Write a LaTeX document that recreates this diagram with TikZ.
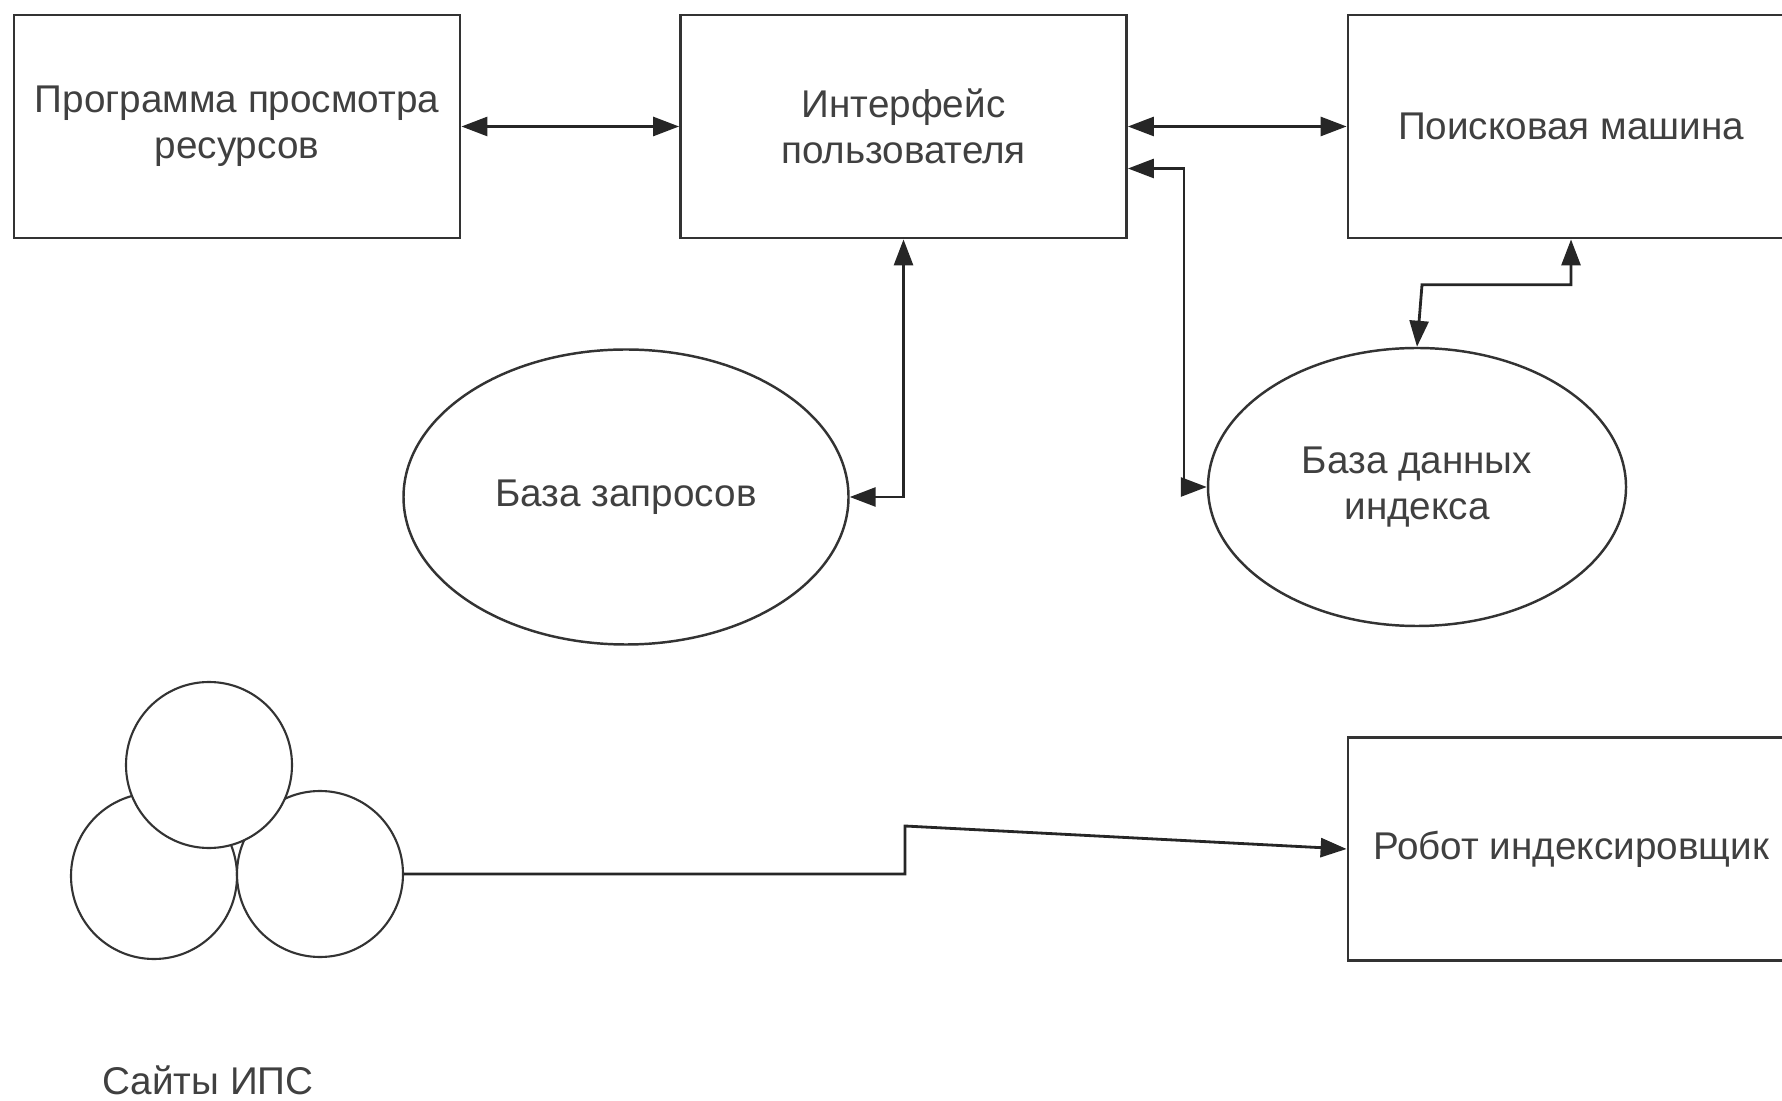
\documentclass[tikz,border=0pt]{standalone}
\usepackage{fontspec}
\setmainfont{Liberation Sans}
\usetikzlibrary{shapes.geometric,arrows.meta}

\begin{document}
\begin{tikzpicture}[font=\fontsize{11}{13}\selectfont, text=black!75,
        blok/.style={draw=black!80, line width=0.8pt, minimum width=4.46cm, minimum height=2.23cm, align=center, inner sep=0pt},
        baza/.style={draw=black!80, line width=0.7pt, ellipse, align=center, inner sep=0pt},
        sajt/.style={draw=black!80, line width=0.6pt, circle, fill=white, minimum size=1.66cm, inner sep=0pt},
        svyaz/.style={draw=black!85, line width=0.8pt},
        tip/.tip={Triangle[length=0.26cm, width=0.19cm]}]
                \useasboundingbox (0,0) rectangle (17.82,-11.01);
                \clip (0,0) rectangle (17.82,-11.01);
                % blocks
                \node[blok] (prog) at (2.37,-1.265) {Программа просмотра\\ресурсов};
                \node[blok] (ui) at (9.035,-1.265) {Интерфейс\\пользователя};
                \node[blok] (poisk) at (15.71,-1.265) {Поисковая машина};
                \node[blok] (robot) at (15.71,-8.49) {Робот индексировщик};
                % databases
                \node[baza, minimum width=4.45cm, minimum height=2.95cm] (zapr) at (6.26,-4.97) {База запросов};
                \node[baza, minimum width=4.18cm, minimum height=2.78cm] (indeks) at (14.17,-4.87) {База данных\\индекса};
                % sites
                \node[sajt] (sajtL) at (1.54,-8.76) {};
                \node[sajt] (sajtR) at (3.20,-8.74) {};
                \node[sajt] (sajtT) at (2.09,-7.65) {};
                \node (sajty) at (2.08,-10.80) {Сайты ИПС};
                % links
                \draw[svyaz, tip-tip] (prog.east) -- (ui.west);
                \draw[svyaz, tip-tip] (ui.east) -- (poisk.west);
                \draw[svyaz, tip-tip] ([yshift=-0.42cm]ui.east) -- ++(0.56,0) |- (indeks.west);
                \draw[svyaz, tip-tip] (ui.south) |- (zapr.east);
                \draw[svyaz, tip-tip] (indeks.north) -- ++(0.05,0.62) -| (poisk.south);
                \draw[svyaz, -tip] (sajtR.east) -- (9.05,-8.74) -- (9.05,-8.26) -- (robot.west);
\end{tikzpicture}
\end{document}
